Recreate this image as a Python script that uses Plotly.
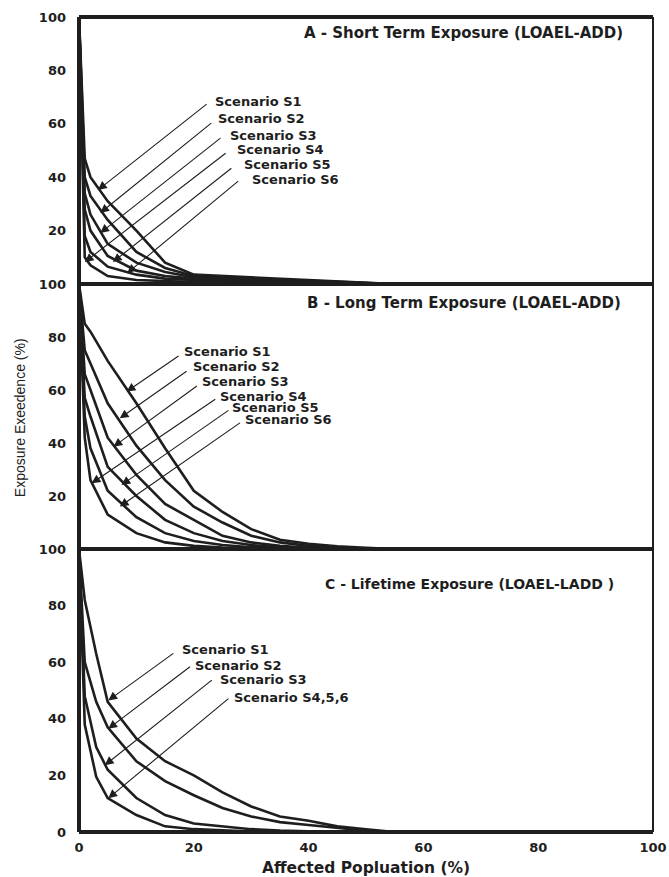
import plotly.graph_objects as go

# ---------------- data ----------------
X_A = [0, 1, 2, 5, 10, 15, 20, 25, 30, 35, 40, 45, 50, 55]
A_S1 = [100, 47, 40, 31, 20, 8, 3.5, 3, 2.5, 2, 1.5, 1, 0.5, 0]
A_S2 = [100, 40, 33, 24, 12, 6, 3, 2.5, 2, 1.5, 1.2, 0.8, 0.4, 0]
A_S3 = [100, 34, 26, 15, 8, 4.5, 2.5, 2, 1.7, 1.3, 1, 0.6, 0.3, 0]
A_S4 = [100, 28, 20, 10.5, 5, 3, 2, 1.6, 1.3, 1, 0.8, 0.5, 0.2, 0]
A_S5 = [100, 18, 12, 6.5, 3.5, 2, 1.5, 1.2, 1, 0.8, 0.6, 0.4, 0.2, 0]
A_S6 = [100, 10, 7, 3, 1.5, 1, 0.7, 0.6, 0.5, 0.4, 0.3, 0.2, 0.1, 0]

X_B = [0, 1, 2, 5, 10, 15, 20, 25, 30, 35, 40, 45, 50, 55]
B_S1 = [100, 85, 82, 71, 55, 38, 22, 14, 7.5, 3.5, 2, 1, 0.5, 0]
B_S2 = [100, 75, 70, 55, 39, 26, 16, 10, 5, 2.5, 1.2, 0.5, 0.2, 0]
B_S3 = [100, 66, 60, 42, 28, 17, 11, 5, 2.5, 1.2, 0.5, 0.2, 0, 0]
B_S4 = [100, 57, 50, 31, 20, 11, 6, 3, 1.5, 0.6, 0.2, 0, 0, 0]
B_S5 = [100, 50, 38, 22, 12, 6, 3, 1.5, 0.7, 0.3, 0, 0, 0, 0]
B_S6 = [100, 42, 26, 13, 6, 2.5, 1.2, 0.6, 0.3, 0, 0, 0, 0, 0]

X_C = [0, 1, 3, 5, 10, 15, 20, 25, 30, 35, 40, 45, 50, 55]
C_S1 = [100, 82, 63, 46, 33, 25, 20, 14, 9, 5.5, 4, 2, 1, 0]
C_S2 = [100, 60, 46, 37, 25, 18, 13, 8.5, 5.5, 3.5, 2.5, 1.5, 0.5, 0]
C_S3 = [100, 48, 30, 22, 12, 6, 3, 2, 1, 0.5, 0.2, 0, 0, 0]
C_S4 = [100, 38, 19.5, 12, 6, 2, 1, 0.5, 0.2, 0, 0, 0, 0, 0]

PANEL_TITLES = ["A - Short Term Exposure (LOAEL-ADD)",
                "B - Long Term Exposure (LOAEL-ADD)",
                "C - Lifetime Exposure (LOAEL-LADD )"]
LABELS_AB = ["Scenario S1", "Scenario S2", "Scenario S3",
             "Scenario S4", "Scenario S5", "Scenario S6"]
LABELS_C = ["Scenario S1", "Scenario S2", "Scenario S3", "Scenario S4,5,6"]
X_TICKS = [0, 20, 40, 60, 80, 100]
Y_TICKS_AB = [20, 40, 60, 80, 100]
Y_TICKS_C = [0, 20, 40, 60, 80, 100]
X_TITLE = "Affected Popluation (%)"
Y_TITLE = "Exposure Exeedence (%)"

# ---------------- layout helpers ----------------
INK = "#1e1e1e"
BOLD = "DejaVu Sans"
dom_C = [0, 0.3472]
dom_B = [0.3472, 0.6724]
dom_A = [0.6724, 1.0]

fig = go.Figure()

panels = [
    ("y", X_A, [A_S1, A_S2, A_S3, A_S4, A_S5, A_S6]),
    ("y2", X_B, [B_S1, B_S2, B_S3, B_S4, B_S5, B_S6]),
    ("y3", X_C, [C_S1, C_S2, C_S3, C_S4]),
]
for yax, xs, series in panels:
    for s in series:
        fig.add_trace(go.Scatter(x=xs, y=s, mode="lines", xaxis="x", yaxis=yax,
                                 line=dict(color=INK, width=2.6), showlegend=False,
                                 hoverinfo="skip"))

annotations = []

# arrows: (tail_x, tail_y, tip_x, tip_y) and label positions (left x, mid y)
arrows = {
    "y": [(22.5, 67.8, 3.3, 35.2), (23.3, 60.7, 3.7, 26.6), (24.9, 55.1, 3.7, 19.1),
          (25.8, 49.4, 1.0, 8.2), (26.8, 43.8, 5.9, 8.2), (28.0, 39.0, 8.4, 4.1)],
    "y2": [(17.6, 73.2, 8.3, 59.4), (19.0, 67.5, 7.1, 49.3), (20.8, 61.9, 6.0, 38.6),
           (24.0, 56.9, 2.2, 24.8), (26.3, 52.7, 7.4, 24.2), (28.3, 48.0, 7.1, 16.0)],
    "y3": [(16.7, 63.5, 5.1, 46.5), (19.6, 58.8, 5.1, 36.5), (23.4, 54.1, 4.5, 23.6),
           (26.3, 47.6, 5.1, 11.9)],
}
label_pos = {
    "y": [(23.3, 68.5), (23.9, 61.8), (26.0, 55.8), (27.2, 50.2), (28.4, 44.9), (29.8, 39.0)],
    "y2": [(17.9, 74.5), (19.5, 68.7), (21.1, 63.1), (24.2, 57.5), (26.3, 53.3), (28.6, 48.7)],
    "y3": [(17.6, 64.4), (19.9, 58.8), (24.3, 53.8), (26.7, 47.6)],
}
labels = {"y": LABELS_AB, "y2": LABELS_AB, "y3": LABELS_C}

for yax in ["y", "y2", "y3"]:
    for (tx, ty, hx, hy) in arrows[yax]:
        annotations.append(dict(x=hx, y=hy, ax=tx, ay=ty, xref="x", yref=yax,
                                axref="x", ayref=yax, text="", showarrow=True,
                                arrowhead=2, arrowsize=1.6, arrowwidth=1.1,
                                arrowcolor=INK, standoff=0, startstandoff=0))
    for (lx, ly), txt in zip(label_pos[yax], labels[yax]):
        annotations.append(dict(x=lx, y=ly, xref="x", yref=yax, text="<b>%s</b>" % txt,
                                showarrow=False, xanchor="left", yanchor="middle",
                                font=dict(family=BOLD, size=13, color=INK)))

title_pos = [("y", 95.1, 94.0, 15), ("y2", 94.8, 92.8, 15), ("y3", 93.6, 87.7, 14)]
for (yax, x, y, sz), t in zip(title_pos, PANEL_TITLES):
    annotations.append(dict(x=x, y=y, xref="x", yref=yax, text="<b>%s</b>" % t,
                            showarrow=False, xanchor="right", yanchor="middle",
                            font=dict(family=BOLD, size=sz, color=INK)))

annotations.append(dict(x=0.5, y=-0.0442, xref="paper", yref="paper",
                        text="<b>%s</b>" % X_TITLE, showarrow=False,
                        xanchor="center", yanchor="middle",
                        font=dict(family=BOLD, size=15.5, color=INK)))
annotations.append(dict(x=-0.1028, y=0.509, xref="paper", yref="paper",
                        text=Y_TITLE, showarrow=False, textangle=-90,
                        xanchor="center", yanchor="middle",
                        font=dict(family="Liberation Sans", size=14, color="#222222")))

# frame shapes
shapes = []
for yb in [0.0, 0.3472, 0.6724, 1.0]:
    shapes.append(dict(type="line", xref="paper", yref="paper", x0=0, x1=1, y0=yb, y1=yb,
                       line=dict(color=INK, width=4), layer="above"))
shapes.append(dict(type="line", xref="paper", yref="paper", x0=0, x1=0, y0=0, y1=1,
                   line=dict(color=INK, width=4), layer="above"))
shapes.append(dict(type="line", xref="paper", yref="paper", x0=1, x1=1, y0=0, y1=1,
                   line=dict(color=INK, width=2), layer="above"))

tickfont = dict(family=BOLD, size=13, color=INK, weight="bold")
yax_common = dict(range=[0, 100], showgrid=False, zeroline=False, showline=False,
                  ticks="", tickfont=tickfont, ticklabelstandoff=12, anchor="x",
                  fixedrange=True, ticklabeloverflow="allow", automargin=False)

# Initial size fits inside the page's default 8px body margin (no overflow);
# the post script then removes that margin and grows the figure to the full window.
fig.update_layout(
    width=653, height=861,
    margin=dict(l=71, r=8, t=9, b=37),
    paper_bgcolor="white", plot_bgcolor="white",
    showlegend=False,
    xaxis=dict(domain=[0, 1], range=[0, 100], tickvals=X_TICKS, showgrid=False,
               zeroline=False, showline=False, ticks="", tickfont=tickfont,
               ticklabelstandoff=6, anchor="y3", ticklabeloverflow="allow",
               fixedrange=True, automargin=False),
    yaxis=dict(domain=dom_A, tickvals=Y_TICKS_AB, **yax_common),
    yaxis2=dict(domain=dom_B, tickvals=Y_TICKS_AB, **yax_common),
    yaxis3=dict(domain=dom_C, tickvals=Y_TICKS_C, **yax_common),
    annotations=annotations,
    shapes=shapes,
)

post = ("document.documentElement.style.overflow='hidden';"
        "document.body.style.overflow='hidden';"
        "document.body.style.margin='0';"
        "var gd=document.getElementById('{plot_id}');"
        "gd.style.width='669px';gd.style.height='877px';"
        "return Plotly.relayout(gd,{autosize:false,width:669,height:877,'margin.l':79,"
        "'margin.r':16,'margin.t':17,'margin.b':45});")

fig.write_html("out.html",
               config={"displayModeBar": False, "responsive": False},
               post_script=post)
